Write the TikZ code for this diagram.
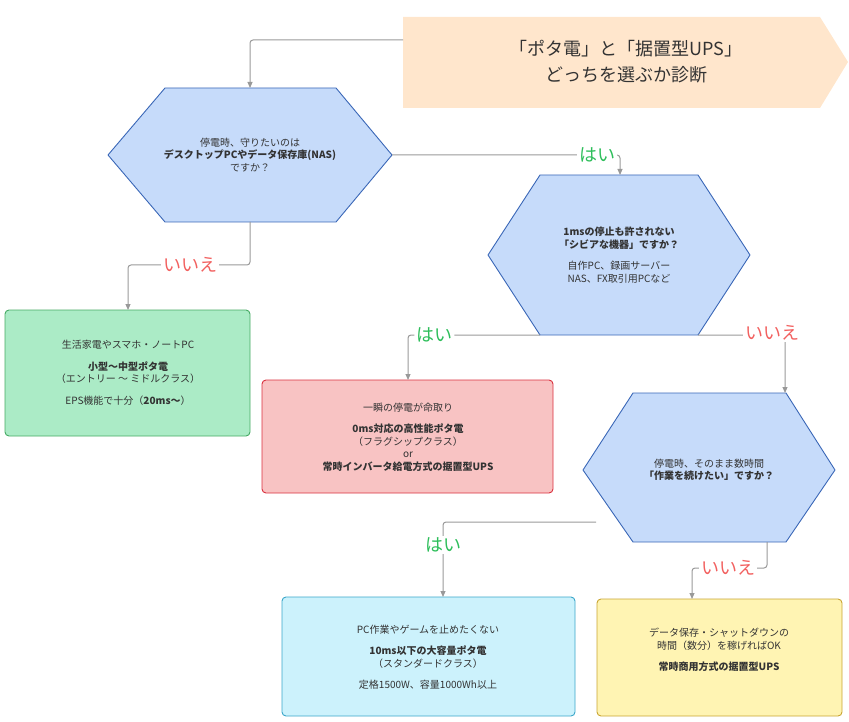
\documentclass[tikz,border=0pt]{standalone}
\usepackage{fontspec}
\setmainfont{Noto Sans CJK JP}
\usetikzlibrary{arrows.meta}
\definecolor{hexf}{HTML}{C6DBFA}\definecolor{hexd}{HTML}{3A67B7}
\definecolor{yes}{HTML}{2DBE5A}\definecolor{no}{HTML}{F2605F}
\definecolor{ln}{HTML}{999999}\definecolor{tx}{HTML}{333333}
\begin{document}
\begin{tikzpicture}[x=1pt,y=-1pt,
  txt/.style={font=\fontsize{10}{12.5}\selectfont,text=tx,align=center},
  hexs/.style={fill=hexf,draw=hexd,line width=0.9pt,line join=round},
  box/.style={rounded corners=4pt,line width=0.9pt},
  con/.style={draw=ln,line width=1pt,-{Triangle[length=6pt,width=5pt]},rounded corners=3pt},
  yl/.style={font=\fontsize{18}{20}\selectfont,text=yes,fill=white,inner sep=2pt},
  nl/.style={font=\fontsize{18}{20}\selectfont,text=no,fill=white,inner sep=2pt}]
\useasboundingbox (0,0) rectangle (849,722);
% title
\fill[fill={rgb,255:red,255;green,230;blue,204}] (403,17)--(820,17)--(848,62)--(820,108)--(403,108)--cycle;
\node[font=\fontsize{18}{26}\selectfont,text=tx,align=center] (title) at (626,62) {「ポタ電」と「据置型UPS」\\どっちを選ぶか診断};
\coordinate (tl) at (403,40);
% hexes
\draw[hexs] (108,155)--(165,88)--(336,88)--(392,155)--(336,222)--(165,222)--cycle;
\node[txt] (h1) at (250,155) {停電時、守りたいのは\\\textbf{デスクトップPCやデータ保存庫(NAS)}\\ですか？};
\coordinate (h1t) at (250,88);\coordinate (h1r) at (392,155);\coordinate (h1b) at (250,222);
\draw[hexs] (488,255)--(540,175)--(698,175)--(750,255)--(698,335)--(540,335)--cycle;
\node[txt] (h2) at (619,255) {\textbf{1msの停止も許されない}\\\textbf{「シビアな機器」ですか？}\\[9pt]自作\textit{PC}、録画サーバー\\\textit{NAS}、\textit{FX}取引用\textit{PC}など};
\coordinate (h2t) at (620,175);\coordinate (h2bl) at (540,335);\coordinate (h2br) at (698,335);
\draw[hexs] (583,470)--(633,393)--(786,393)--(835,470)--(786,542)--(633,542)--cycle;
\node[txt] (h3) at (709,470) {停電時、そのまま数時間\\\textbf{「作業を続けたい」ですか？}};
\coordinate (h3t) at (785,393);\coordinate (h3l) at (596,522);\coordinate (h3b) at (767,542);
% boxes
\draw[box,fill={rgb,255:red,171;green,235;blue,198},draw={rgb,255:red,70;green,170;blue,100}] (5,310) rectangle (250,436);
\node[txt] (g) at (128,373) {生活家電やスマホ・ノートPC\\[9pt]\textbf{小型～中型ポタ電}\\（エントリー ～ ミドルクラス）\\[9pt]EPS機能で十分（\textbf{20ms～}）};
\coordinate (gt) at (128,310);
\draw[box,fill={rgb,255:red,248;green,195;blue,195},draw={rgb,255:red,217;green,48;blue,62}] (262,380) rectangle (553,493);
\node[txt] (r) at (408,437) {一瞬の停電が命取り\\[9pt]\textbf{0ms対応の高性能ポタ電}\\（フラグシップクラス）\\or\\\textbf{常時インバータ給電方式の据置型UPS}};
\coordinate (rt) at (408,380);
\draw[box,fill={rgb,255:red,204;green,242;blue,252},draw={rgb,255:red,58;green,166;blue,201}] (282,597) rectangle (575,716);
\node[txt] (b) at (428,657) {PC作業やゲームを止めたくない\\[9pt]\textbf{10ms以下の大容量ポタ電}\\（スタンダードクラス）\\[9pt]定格1500W、容量1000Wh以上};
\coordinate (bt) at (443,597);
\draw[box,fill={rgb,255:red,255;green,244;blue,179},draw={rgb,255:red,201;green,165;blue,49}] (597,599) rectangle (842,716);
\node[txt] (y) at (719,650) {データ保存・シャットダウンの\\時間（数分）を稼げればOK\\[9pt]\textbf{常時商用方式の据置型UPS}};
\coordinate (yt) at (692,599);
% connectors
\draw[con] (tl) -| (h1t);
\draw[con] (h1r) -| (h2t) node[pos=0.45,yl] {はい};
\draw[con] (h1b) |- (190,265) -| (gt);
\node[nl] at (190,265) {いいえ};
\draw[con] (h2bl) -| (rt) node[pos=0.4,yl] {はい};
\draw[con] (h2br) -| (h3t);
\node[nl] at (772,333) {いいえ};
\draw[con] (h3l) -| (bt);
\node[yl] at (443,545) {はい};
\draw[con] (h3b) |- (692,568) -- (yt);
\node[nl] at (728,568) {いいえ};
\end{tikzpicture}
\end{document}
